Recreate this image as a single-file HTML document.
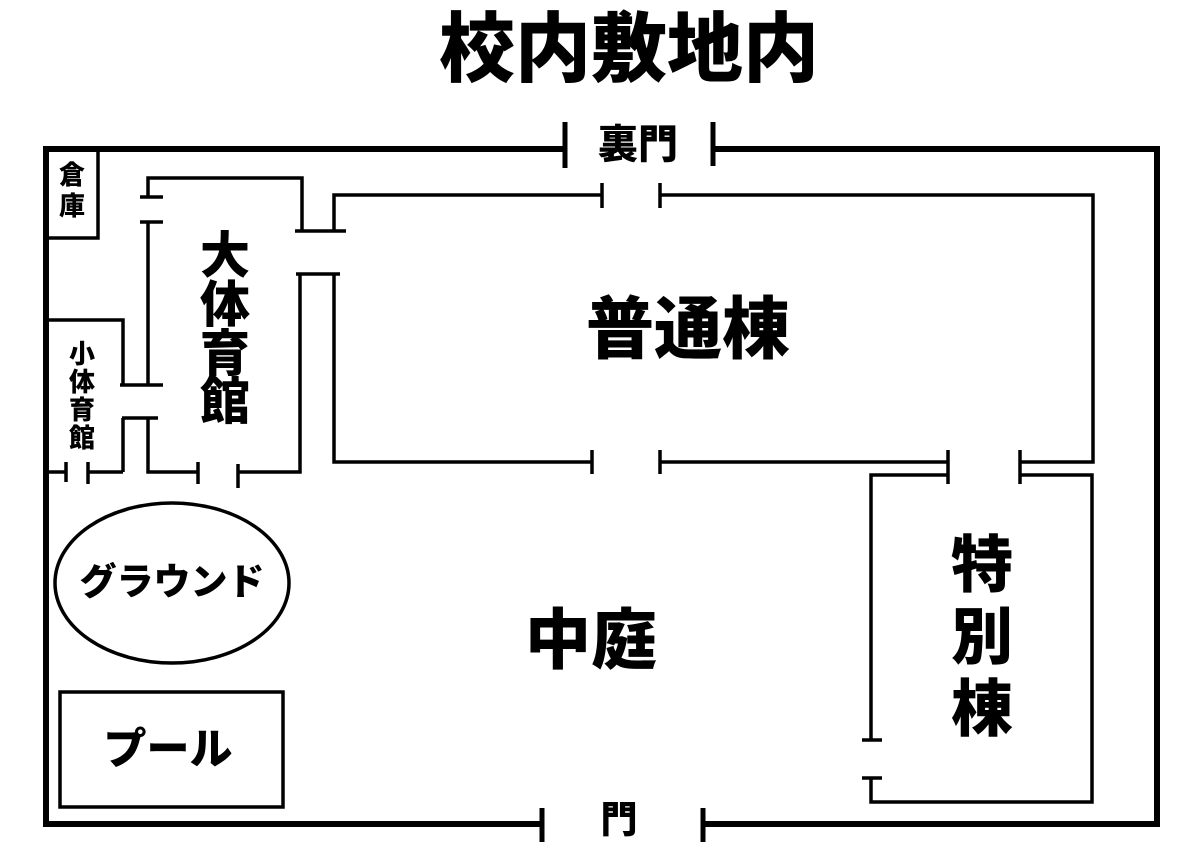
<!DOCTYPE html>
<html><head><meta charset="utf-8"><style>
html,body{margin:0;padding:0;background:#fff;}
svg{display:block;}
text{font-family:"Liberation Sans","Noto Sans CJK JP",sans-serif;font-weight:900;fill:#000;text-anchor:middle;dominant-baseline:central;}
</style></head><body>
<svg width="1200" height="850" viewBox="0 0 1200 850" xmlns="http://www.w3.org/2000/svg">
<g fill="none" stroke="#000" stroke-linecap="butt">
<path d="M565 149 H46 V824 H542 M703 824 H1157 V149 H713" stroke-width="6"/>
<path d="M565 122 V168 M713 122 V166 M542 808 V842 M703 808 V842" stroke-width="5"/>
<g stroke-width="3.5">
<path d="M98 149 V238 H46"/>
<path d="M148 197 V178 H302 V231"/>
<path d="M140 197 H163 M140 222 H163"/>
<path d="M148 222 V386"/>
<path d="M120 385 H163 M122 418 H158"/>
<path d="M123 418 V472 M148 418 V472 H198 M238 472 H300 V274"/>
<path d="M198 462 V484 M238 464 V488"/>
<path d="M295 231 H346 M296 274 H340"/>
<path d="M46 320 H123 V385"/>
<path d="M46 472 H66 M88 472 H123"/>
<path d="M66 462 V482 M88 462 V484"/>
<path d="M334 231 V195 H602 M660 195 H1093 V462 H1020 M948 462 H660 M592 462 H334 V274"/>
<path d="M602 183 V208 M660 183 V208 M592 450 V474 M660 450 V474 M948 450 V484 M1020 450 V484"/>
<path d="M948 475 H871 V740 M871 778 V802 H1092 V475 H1020"/>
<path d="M862 740 H882 M862 778 H882"/>
<ellipse cx="172" cy="583" rx="117" ry="80"/>
<rect x="60" y="692" width="223" height="115"/>
</g>
</g>
<text x="629" y="50" font-size="76">校内敷地内</text>
<text x="638" y="145" font-size="40">裏門</text>
<text x="619" y="820" font-size="37">門</text>
<text x="688" y="330" font-size="68">普通棟</text>
<text x="591" y="640" font-size="66">中庭</text>
<text x="982" y="566" font-size="62">特</text>
<text x="982" y="638" font-size="62">別</text>
<text x="982" y="710" font-size="62">棟</text>
<text x="225" y="256" font-size="50">大</text>
<text x="225" y="305" font-size="50">体</text>
<text x="225" y="354" font-size="50">育</text>
<text x="225" y="402" font-size="50">館</text>
<text x="82" y="354" font-size="26">小</text>
<text x="82" y="382" font-size="26">体</text>
<text x="82" y="410" font-size="26">育</text>
<text x="82" y="438" font-size="26">館</text>
<text x="72" y="175" font-size="26">倉</text>
<text x="72" y="206" font-size="26">庫</text>
<text x="172" y="582" font-size="37">グラウンド</text>
<text x="168" y="750" font-size="43">プール</text>
</svg>
</body></html>
